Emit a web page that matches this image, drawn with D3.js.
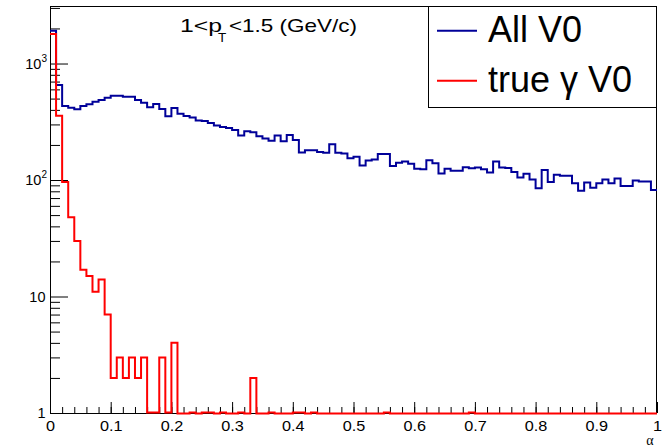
<!DOCTYPE html>
<html><head><meta charset="utf-8">
<script src="https://cdn.jsdelivr.net/npm/d3@7"></script>
<style>html,body{margin:0;padding:0;background:#fff;} svg{display:block;}</style>
</head><body>
<svg id="c" width="665" height="447"></svg>
<script>
// ---------- data ----------
const binWidth = 0.01;
const allV0 = [1912, 654, 432, 418, 404, 432, 446, 470, 486, 509,
  530, 530, 519, 519, 486, 461, 421, 449, 407, 352,
  415, 370, 354, 344, 325, 321, 309, 294, 285, 280,
  269, 241, 262, 257, 238, 227, 217, 241, 215, 243,
  220, 172, 180, 180, 174, 171, 203, 171, 169, 154,
  158, 133, 147, 150, 167, 167, 132, 141, 144, 138,
  125, 124, 148, 139, 114, 125, 120, 120, 129, 126,
  128, 124, 116, 144, 128, 127, 117, 105, 113, 101,
  85, 122, 96, 111, 109, 109, 94, 81, 95, 86,
  94, 101, 94, 103, 89, 89, 99, 97, 97, 82];
const trueGammaV0 = [1790, 356, 96, 48, 30, 17, 15, 11, 14, 7,
  2, 3, 2, 3, 2, 3, 1, 1, 3, 1,
  4, 0, 0, 1, 0, 1, 1, 0, 1, 0,
  0, 1, 0, 2, 0, 0, 1, 0, 0, 0,
  1, 1, 0, 1, 0, 0, 0, 0, 0, 0,
  0, 0, 0, 0, 0, 1, 0, 0, 0, 0,
  0, 0, 0, 0, 0, 0, 0, 0, 0, 1,
  0, 0, 0, 0, 0, 0, 0, 0, 0, 0,
  0, 0, 0, 0, 0, 0, 0, 0, 0, 0,
  0, 0, 0, 0, 0, 0, 0, 0, 0, 0];
const xMajorTicks = [0, 0.1, 0.2, 0.3, 0.4, 0.5, 0.6, 0.7, 0.8, 0.9, 1];
const xTickLabels = ["0", "0.1", "0.2", "0.3", "0.4", "0.5", "0.6", "0.7", "0.8", "0.9", "1"];
const yMajorTicks = [1, 10, 100, 1000];
const yTickBase = ["1", "10", "10", "10"];
const yTickExp = ["", "", "2", "3"];
const yMinorTicks = [2,3,4,5,6,7,8,9,20,30,40,50,60,70,80,90,200,300,400,500,600,700,800,900,2000,3000];
const seriesNames = ["All V0", "true \u03B3 V0"];
const seriesColors = ["#000099", "#ff0000"];
const xTitle = "\u03B1";

// ---------- layout ----------
const W = 665, H = 447;
const L = 50, R = 657, T = 6, B = 413;
const svg = d3.select("#c");
const x = d3.scaleLinear().domain([0, 1]).range([L, R]);
const y = d3.scaleLog().domain([1, 3117]).range([B, T]);
const font = "'Liberation Sans', Arial, Helvetica, sans-serif";

// axes ticks
const xMinor = d3.range(0, 51).map(i => i * 0.02);
const gxMinor = svg.append("g").attr("transform", `translate(0,${B})`)
  .call(d3.axisBottom(x).tickValues(xMinor).tickSize(-6).tickFormat(""));
const gx = svg.append("g").attr("transform", `translate(0,${B})`)
  .call(d3.axisBottom(x).tickValues(xMajorTicks).tickSize(-11).tickFormat((d, i) => xTickLabels[i]));
[gxMinor, gx].forEach(g => { g.select(".domain").remove(); g.selectAll("line").attr("stroke", "#000"); });
gx.selectAll("text").attr("y", 18).attr("dy", 0).attr("font-family", font).attr("font-size", 14.5).attr("fill", "#000")
  .attr("transform", "scale(1.12,1)");

const gyMinor = svg.append("g").attr("transform", `translate(${L},0)`)
  .call(d3.axisLeft(y).tickValues(yMinorTicks).tickSize(-10).tickFormat(""));
const gy = svg.append("g").attr("transform", `translate(${L},0)`)
  .call(d3.axisLeft(y).tickValues(yMajorTicks).tickSize(-18).tickFormat(""));
[gyMinor, gy].forEach(g => { g.select(".domain").remove(); g.selectAll("line").attr("stroke", "#000"); });

// y labels
const ylab = svg.append("g").attr("font-family", font).attr("fill", "#000");
yMajorTicks.forEach((v, i) => {
  const t = ylab.append("text").attr("text-anchor", "end").attr("font-size", 14.5)
    .attr("x", yTickExp[i] ? 47 : 45.5).attr("y", y(v) + 5.3);
  t.append("tspan").text(yTickBase[i]);
  if (yTickExp[i]) t.append("tspan").attr("font-size", 10).attr("dy", -7).text(yTickExp[i]);
});

// histograms (step lines)
const edges = allV0.map((_, i) => i * binWidth);
function histPath(vals) {
  const pts = vals.map((v, i) => [edges[i], v]);
  pts.push([1, vals[vals.length - 1]]);
  return d3.line()
    .x(d => x(d[0]))
    .y(d => d[1] >= 1 ? (d[1] === 1 ? y(1) - 0.5 : y(d[1])) : y(1) + 0.5)
    .curve(d3.curveStepAfter)(pts);
}
// frame
svg.append("rect").attr("x", L + 0.5).attr("y", T + 0.5).attr("width", R - L - 1).attr("height", B - T)
  .attr("fill", "none").attr("stroke", "#000").attr("stroke-width", 1);

[allV0, trueGammaV0].forEach((vals, k) => {
  svg.append("path").attr("d", histPath(vals)).attr("fill", "none")
    .attr("stroke", seriesColors[k]).attr("stroke-width", 2).attr("stroke-linejoin", "miter");
});

// title
const title = svg.append("g").attr("font-family", font).attr("fill", "#000");
title.append("text").attr("x", 180).attr("y", 31.5).attr("font-size", 18.5)
  .attr("textLength", 42).attr("lengthAdjust", "spacingAndGlyphs").text("1<p");
title.append("text").attr("x", 218).attr("y", 41.5).attr("font-size", 13.5).text("T");
title.append("text").attr("x", 229).attr("y", 31.5).attr("font-size", 18.5)
  .attr("textLength", 128).attr("lengthAdjust", "spacingAndGlyphs").text("<1.5 (GeV/c)");

// x-axis title
svg.append("text").attr("x", 650).attr("y", 445).attr("text-anchor", "middle")
  .attr("font-family", "'Liberation Serif', 'Times New Roman', serif").attr("font-size", 14).text(xTitle);

// legend
const lg = svg.append("g");
lg.append("rect").attr("x", 428.5).attr("y", T + 0.5).attr("width", R - 428.5 - 0.5).attr("height", 101)
  .attr("fill", "#fff").attr("stroke", "#000").attr("stroke-width", 1);
seriesNames.forEach((n, k) => {
  const yy = 30.7 + k * 50;
  lg.append("line").attr("x1", 437).attr("x2", 477).attr("y1", yy).attr("y2", yy)
    .attr("stroke", seriesColors[k]).attr("stroke-width", 2);
  lg.append("text").attr("x", 488).attr("y", yy + 11).attr("font-family", font).attr("font-size", 36)
    .attr("fill", "#000").text(n);
});
</script>
</body></html>
